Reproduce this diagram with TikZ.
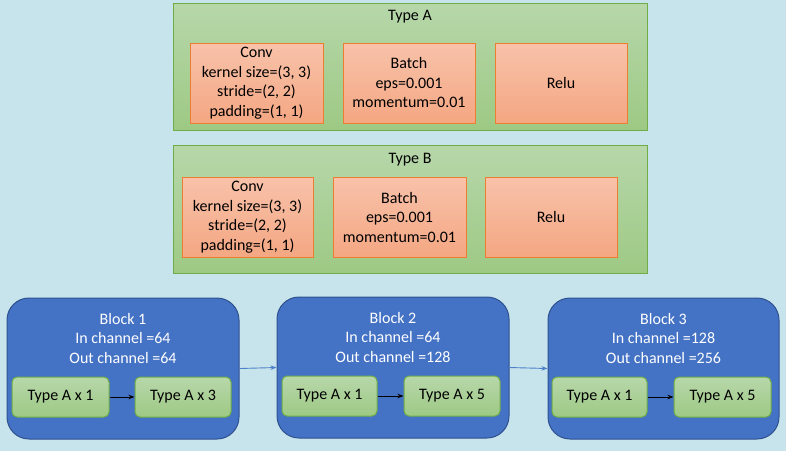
\documentclass[tikz,border=0pt]{standalone}
\usepackage{fontspec}
\setmainfont{Carlito}
\usetikzlibrary{arrows.meta}
\definecolor{bg}{HTML}{C7E4EC}
\definecolor{gtop}{HTML}{B7D7AA}
\definecolor{gbot}{HTML}{9DC984}
\definecolor{gline}{HTML}{70AD47}
\definecolor{otop}{HTML}{F8C2AA}
\definecolor{obot}{HTML}{F4A782}
\definecolor{oline}{HTML}{ED7D31}
\definecolor{bfill}{HTML}{4472C4}
\definecolor{bline}{HTML}{2F528F}
\definecolor{conn}{HTML}{4F81C9}
\begin{document}
\begin{tikzpicture}[x=1pt,y=-1pt,
  every node/.style={font=\fontsize{16}{19.5}\selectfont, inner sep=0pt, align=center},
  typebox/.style={draw=gline, line width=1pt, top color=gtop, bottom color=gbot, minimum width=474pt, minimum height=127pt},
  layerbox/.style={draw=oline, line width=1pt, top color=otop, bottom color=obot, minimum height=80pt},
  blockbox/.style={draw=bline, line width=1pt, fill=bfill, rounded corners=22pt, minimum height=141pt},
  blocktext/.style={text=white},
  subbox/.style={draw=gline, line width=1pt, top color=gtop, bottom color=gbot, rounded corners=5pt, minimum width=96pt, minimum height=40pt},
  innerarrow/.style={-{Stealth[length=6pt,width=4.5pt]}, line width=1pt, black},
  blockarrow/.style={-{Stealth[length=6pt,width=4.5pt]}, line width=0.9pt, conn}
]
\useasboundingbox[fill=bg] (0,0) rectangle (786,451);

% Type A
\node[typebox] (typeA) at (410,66.5) {};
\node (typeAt) at (410,17) {Type A};
\node[layerbox, minimum width=133pt] (convA) at (256.5,83) {Conv\\kernel size=(3, 3)\\stride=(2, 2)\\padding=(1, 1)};
\node[layerbox, minimum width=132pt] (batchA) at (409,83) {Batch\\eps=0.001\\momentum=0.01};
\node[layerbox, minimum width=132pt] (reluA) at (561,83) {Relu};

% Type B
\node[typebox, minimum height=128pt] (typeB) at (410,209) {};
\node (typeBt) at (410,160) {Type B};
\node[layerbox, minimum width=131pt] (convB) at (247.5,217) {Conv\\kernel size=(3, 3)\\stride=(2, 2)\\padding=(1, 1)};
\node[layerbox, minimum width=133pt] (batchB) at (399.5,217) {Batch\\eps=0.001\\momentum=0.01};
\node[layerbox, minimum width=132pt] (reluB) at (551,217) {Relu};

% Blocks
\node[blockbox, minimum width=232pt] (b1) at (123,368.5) {};
\node[blocktext] (b1t) at (123,338) {Block 1\\In channel =64\\Out channel =64};
\node[subbox, minimum width=97pt] (b1a) at (60.5,397) {Type A x 1};
\node[subbox] (b1b) at (183,397) {Type A x 3};

\node[blockbox, minimum width=232pt] (b2) at (393,367.5) {};
\node[blocktext] (b2t) at (393,337) {Block 2\\In channel =64\\Out channel =128};
\node[subbox, minimum width=95pt] (b2a) at (329.5,396) {Type A x 1};
\node[subbox] (b2b) at (452,396) {Type A x 5};

\node[blockbox, minimum width=231pt] (b3) at (663.5,368.5) {};
\node[blocktext] (b3t) at (663.5,338) {Block 3\\In channel =128\\Out channel =256};
\node[subbox, minimum width=95pt] (b3a) at (599.5,397) {Type A x 1};
\node[subbox, minimum width=97pt] (b3b) at (722.5,397) {Type A x 5};

% connectors
\draw[innerarrow] (b1a) -- (b1b);
\draw[innerarrow] (b2a) -- (b2b);
\draw[innerarrow] (b3a) -- (b3b);
\draw[blockarrow] (b1.east) -- (b2.west);
\draw[blockarrow] (b2.east) -- (b3.west);
\end{tikzpicture}
\end{document}
